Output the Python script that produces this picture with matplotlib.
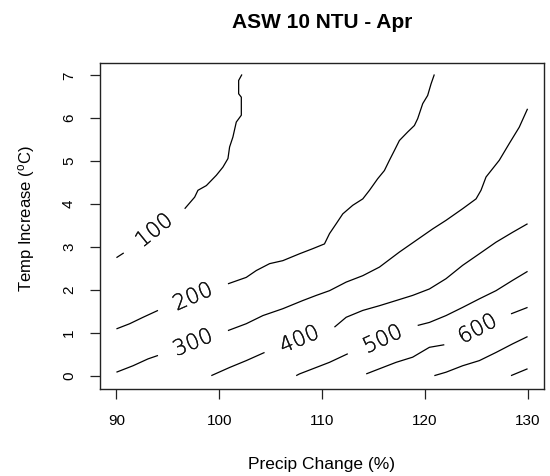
import matplotlib
matplotlib.use("Agg")
import matplotlib.pyplot as plt
import matplotlib.patheffects as pe
import numpy as np

plt.rcParams['font.family'] = ['Liberation Sans', 'DejaVu Sans']
plt.rcParams['mathtext.fontset'] = 'custom'
plt.rcParams['mathtext.rm'] = 'Liberation Sans'
plt.rcParams['mathtext.it'] = 'Liberation Sans'

title = "ASW 10 NTU - Apr"
x_label = "Precip Change (%)"
y_label = r"Temp Increase ($^{\mathrm{o}}$C)"
x_ticks = [90, 100, 110, 120, 130]
y_ticks = [0, 1, 2, 3, 4, 5, 6, 7]

levels = [100, 200, 300, 400, 500, 600, 700, 800]
labeled_levels = [100, 200, 300, 400, 500, 600]

# Each contour level is a list of pieces; labelled levels are split in two
# around the inline label.
precip_100 = [[90.0, 90.71],
              [96.64, 97.61, 97.93, 98.75, 99.72, 100.36, 100.85, 101.01,
               101.33, 101.66, 102.15, 102.15, 101.89, 101.89, 102.21]]
temp_100 = [[2.75, 2.86],
            [3.89, 4.16, 4.32, 4.43, 4.67, 4.86, 5.06, 5.33,
             5.56, 5.91, 6.07, 6.49, 6.57, 6.88, 7.02]]

precip_200 = [[90.0, 91.29, 92.59, 94.04],
              [100.85, 102.63, 103.61, 104.90, 106.19, 107.81, 109.11, 110.24,
               110.73, 111.38, 112.02, 112.99, 113.97, 114.62, 115.42, 116.07,
               116.56, 117.05, 117.53, 118.34, 118.99, 119.31, 119.80, 120.28,
               120.61, 120.93]]
temp_200 = [[1.09, 1.21, 1.36, 1.52],
            [2.14, 2.29, 2.45, 2.61, 2.68, 2.84, 2.96, 3.07,
             3.31, 3.54, 3.77, 3.97, 4.12, 4.32, 4.59, 4.78,
             5.02, 5.25, 5.48, 5.68, 5.83, 5.99, 6.34, 6.53,
             6.80, 7.02]]

precip_300 = [[90.0, 91.61, 93.07, 94.04],
              [100.85, 102.63, 104.25, 106.19, 108.13, 109.44, 110.73, 112.35,
               113.97, 115.59, 117.53, 119.15, 120.77, 122.07, 123.68, 124.99,
               125.47, 125.96, 127.25, 128.22, 129.19, 130.0]]
temp_300 = [[0.08, 0.23, 0.39, 0.47],
            [1.05, 1.21, 1.40, 1.56, 1.75, 1.87, 1.98, 2.18,
             2.33, 2.53, 2.88, 3.15, 3.42, 3.62, 3.89, 4.12,
             4.32, 4.63, 5.02, 5.41, 5.79, 6.22]]

precip_400 = [[99.23, 101.01, 102.63, 104.41],
              [111.21, 112.35, 113.97, 115.59, 117.21, 118.82, 120.45, 122.07,
               123.68, 125.31, 126.93, 128.54, 130.0]]
temp_400 = [[0.0, 0.19, 0.35, 0.54],
            [1.13, 1.36, 1.52, 1.63, 1.75, 1.87, 2.02, 2.26,
             2.57, 2.84, 3.11, 3.34, 3.54]]

precip_500 = [[107.49, 107.81, 110.73, 112.51],
              [119.31, 120.45, 122.07, 123.68, 125.31, 126.93, 128.54, 130.0]]
temp_500 = [[0.0, 0.04, 0.31, 0.51],
            [1.17, 1.24, 1.40, 1.59, 1.79, 1.98, 2.22, 2.43]]

precip_600 = [[114.30, 115.59, 117.21, 118.82, 120.45, 121.90],
              [128.39, 130.0]]
temp_600 = [[0.04, 0.16, 0.31, 0.43, 0.66, 0.72],
            [1.44, 1.59]]

precip_700 = [[120.93, 122.07, 123.68, 125.31, 126.93, 128.54, 130.0]]
temp_700 = [[0.0, 0.08, 0.23, 0.35, 0.54, 0.74, 0.91]]

precip_800 = [[128.39, 130.0]]
temp_800 = [[0.0, 0.16]]

contour_precip = {100: precip_100, 200: precip_200, 300: precip_300, 400: precip_400,
                  500: precip_500, 600: precip_600, 700: precip_700, 800: precip_800}
contour_temp = {100: temp_100, 200: temp_200, 300: temp_300, 400: temp_400,
                500: temp_500, 600: temp_600, 700: temp_700, 800: temp_800}

fig = plt.figure(figsize=(5.5, 4.76), dpi=100)
ax = fig.add_axes([100 / 550, 1 - 388.5 / 476, 444 / 550, 325.2 / 476])
ax.set_xlim(88.4, 131.6)
ax.set_ylim(-0.3, 7.28)

for lev in levels:
    for xs, ys in zip(contour_precip[lev], contour_temp[lev]):
        ax.plot(xs, ys, color='black', linewidth=0.9, solid_capstyle='butt')

# inline labels sit in the gap between the two pieces, aligned with it
fig.canvas.draw()
for lev in labeled_levels:
    xs, ys = contour_precip[lev], contour_temp[lev]
    p0 = ax.transData.transform((xs[0][-1], ys[0][-1]))
    p1 = ax.transData.transform((xs[1][0], ys[1][0]))
    mid = ax.transData.inverted().transform((p0 + p1) / 2)
    ang = np.degrees(np.arctan2(p1[1] - p0[1], p1[0] - p0[0]))
    ax.text(mid[0], mid[1], str(lev), rotation=ang + 3, rotation_mode='anchor',
            ha='center', va='center', fontsize=15.5, color='#111111',
            family=['DejaVu Sans'], fontweight='light',
            path_effects=[pe.withStroke(linewidth=0.2, foreground='#111111')])

ax.set_xticks(x_ticks)
ax.set_yticks(y_ticks)
ax.tick_params(axis='both', direction='out', length=7.2, width=0.9,
               labelsize=11, color='#222222')
ax.tick_params(axis='x', pad=11)
ax.tick_params(axis='y', pad=10, labelrotation=90)
for lbl in ax.get_yticklabels():
    lbl.set_verticalalignment('center')
for sp in ax.spines.values():
    sp.set_linewidth(1.0)
    sp.set_color('#222222')

fig.text((100 + 544) / 2 / 550, 1 - 22 / 476, title, ha='center', va='center',
         fontsize=15, fontweight='bold')
fig.text((100 + 544) / 2 / 550, 1 - 464 / 476, x_label, ha='center', va='center',
         fontsize=12.5)
fig.text(27 / 550, 1 - 219 / 476, y_label, ha='center', va='center',
         fontsize=12, rotation=90)

fig.savefig("out.png", dpi=100)
